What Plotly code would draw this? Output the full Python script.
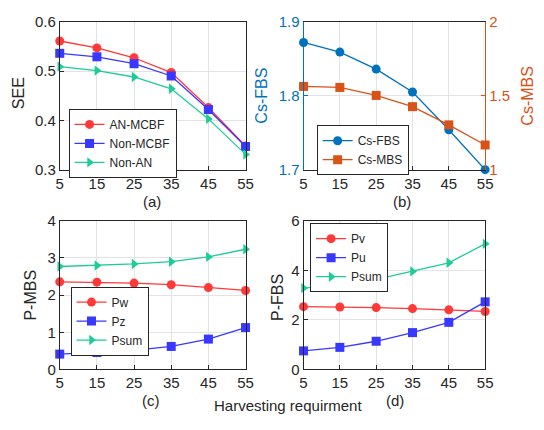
import plotly.graph_objects as go

x_req = [5, 15, 25, 35, 45, 55]

# (a) SEE
see_an_mcbf = [0.561, 0.547, 0.527, 0.497, 0.426, 0.348]
see_non_mcbf = [0.536, 0.529, 0.515, 0.490, 0.422, 0.347]
see_non_an = [0.509, 0.501, 0.488, 0.464, 0.403, 0.331]

# (b) Cs
cs_fbs = [1.872, 1.859, 1.836, 1.805, 1.754, 1.700]
cs_mbs = [1.563, 1.556, 1.502, 1.426, 1.303, 1.167]

# (c) P-MBS
pw = [2.357, 2.348, 2.323, 2.280, 2.202, 2.125]
pz = [0.413, 0.456, 0.516, 0.619, 0.817, 1.127]
psum_mbs = [2.770, 2.796, 2.839, 2.899, 3.028, 3.234]

# (d) P-FBS
pv = [2.535, 2.522, 2.496, 2.457, 2.405, 2.340]
pu = [0.750, 0.892, 1.138, 1.487, 1.901, 2.729]
psum_fbs = [3.284, 3.410, 3.633, 3.957, 4.306, 5.069]

RED = "#FF3838"
BLUE = "#3838FF"
GREEN = "#1DCC98"
MBLUE = "#0072BD"
MORANGE = "#D95319"
AX = "#262626"
GRID = "#E3E3E3"
FONT = "Liberation Sans, Arial, sans-serif"

fig = go.Figure()

def add(x, y, name, color, symbol, xa, ya, legend):
    fig.add_trace(go.Scatter(
        x=x, y=y, name=name, mode="lines+markers",
        line=dict(color=color, width=1.3),
        marker=dict(color=color, symbol=symbol, size=9),
        xaxis=xa, yaxis=ya, legend=legend, cliponaxis=False))

add(x_req, see_an_mcbf, "AN-MCBF", RED, "circle", "x", "y", "legend")
add(x_req, see_non_mcbf, "Non-MCBF", BLUE, "square", "x", "y", "legend")
add(x_req, see_non_an, "Non-AN", GREEN, "triangle-right", "x", "y", "legend")

add(x_req, cs_fbs, "Cs-FBS", MBLUE, "circle", "x2", "y2", "legend2")
add(x_req, cs_mbs, "Cs-MBS", MORANGE, "square", "x2", "y3", "legend2")

add(x_req, pw, "Pw", RED, "circle", "x3", "y4", "legend3")
add(x_req, pz, "Pz", BLUE, "square", "x3", "y4", "legend3")
add(x_req, psum_mbs, "Psum", GREEN, "triangle-right", "x3", "y4", "legend3")

add(x_req, pv, "Pv", RED, "circle", "x4", "y5", "legend4")
add(x_req, pu, "Pu", BLUE, "square", "x4", "y5", "legend4")
add(x_req, psum_fbs, "Psum", GREEN, "triangle-right", "x4", "y5", "legend4")

dom_l = [57/544, 247/544]
dom_r = [306.3/544, 492/544]
dom_t = [1-167.3/430, 1-13.3/430]
dom_b = [1-375.3/430, 1-220.5/430]

def xax(domain, anchor):
    return dict(domain=domain, anchor=anchor, range=[5, 55], tickvals=x_req,
                showline=True, linecolor=AX, linewidth=1, mirror=True,
                ticks="inside", ticklen=4, tickcolor=AX,
                showgrid=True, gridcolor=GRID, zeroline=False,
                tickfont=dict(size=15, color=AX, family=FONT))

def yax(domain, anchor, rng, tv, color=AX, mirror=True, grid=True, fmt=None):
    d = dict(domain=domain, anchor=anchor, range=rng, tickvals=tv,
             showline=True, linecolor=color, linewidth=1, mirror=mirror,
             ticks="inside", ticklen=4, tickcolor=color,
             showgrid=grid, gridcolor=GRID, zeroline=False,
             tickfont=dict(size=15, color=color, family=FONT))
    if fmt:
        d["tickformat"] = fmt
    return d

legend_common = dict(bgcolor="white", bordercolor=AX, borderwidth=1,
                     font=dict(size=12, color=AX, family=FONT),
                     xanchor="left", yanchor="top", itemwidth=30,
                     tracegroupgap=0)

fig.update_layout(
    width=544, height=430, margin=dict(l=0, r=0, t=0, b=0),
    plot_bgcolor="white", paper_bgcolor="white",
    font=dict(family=FONT, color=AX),
    xaxis=xax(dom_l, "y"),
    yaxis=yax(dom_t, "x", [0.3, 0.6], [0.3, 0.4, 0.5, 0.6], fmt=".1f"),
    xaxis2=xax(dom_r, "y2"),
    yaxis2=yax(dom_t, "x2", [1.7, 1.9], [1.7, 1.8, 1.9], color=MBLUE, mirror=False, fmt=".1f"),
    yaxis3=yax(dom_t, "x2", [1.0, 2.0], [1, 1.5, 2], color=MORANGE, mirror=False, grid=False),
    xaxis3=xax(dom_l, "y4"),
    yaxis4=yax(dom_b, "x3", [0, 4], [0, 1, 2, 3, 4]),
    xaxis4=xax(dom_r, "y5"),
    yaxis5=yax(dom_b, "x4", [0, 6], [0, 2, 4, 6]),
    legend=dict(x=66/544, y=1-104/430, **legend_common),
    legend2=dict(x=319.7/544, y=1-121/430, **legend_common),
    legend3=dict(x=68/544, y=1-289/430, **legend_common),
    legend4=dict(x=313/544, y=1-223/430, **legend_common),
)
fig.layout.yaxis3.update(overlaying="y2", side="right")

def ann(text, x, y, angle=0, color=AX, size=16):
    fig.add_annotation(text=text, x=x/544, y=1-y/430, xref="paper", yref="paper",
                       showarrow=False, textangle=angle,
                       font=dict(size=size, color=color, family=FONT),
                       xanchor="center", yanchor="middle")

ann("SEE", 15, 88, -90)
ann("Cs-FBS", 263, 90, -90, MBLUE)
ann("Cs-MBS", 535, 90, -90, MORANGE)
ann("P-MBS", 27, 298, -90)
ann("P-FBS", 279, 300, -90)
ann("(a)", 151, 200, size=15)
ann("(b)", 407, 200, size=15)
ann("(c)", 150, 408, size=15)
ann("(d)", 400, 408, size=15)
ann("Harvesting requirment", 290, 413, size=15)

fig.write_html("out.html")
